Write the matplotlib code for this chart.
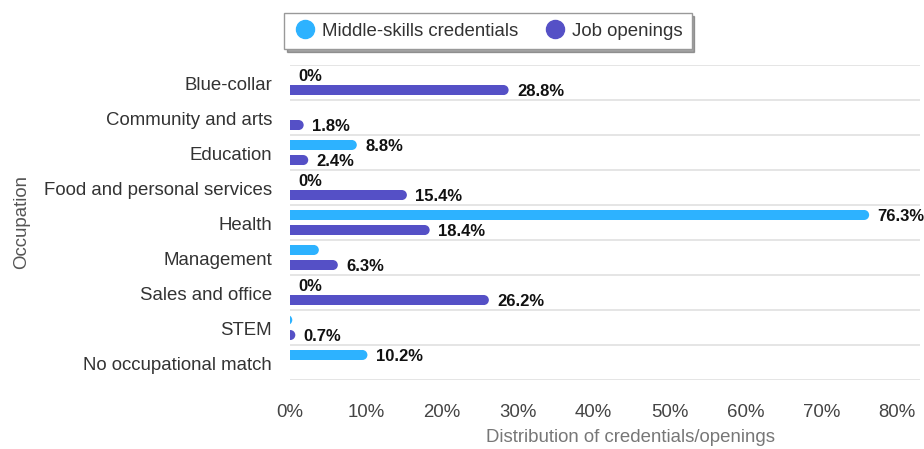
import numpy as np
import matplotlib
matplotlib.use("Agg")
import matplotlib.pyplot as plt
from matplotlib.lines import Line2D
from matplotlib.patches import Ellipse

plt.rcParams['font.family'] = ['Liberation Sans', 'DejaVu Sans']

occupations = ["Blue-collar", "Community and arts", "Education",
               "Food and personal services", "Health", "Management",
               "Sales and office", "STEM", "No occupational match"]
credentials = [0, 0, 8.8, 0, 76.3, 3.8, 0, 0.3, 10.2]
openings = [28.8, 1.8, 2.4, 15.4, 18.4, 6.3, 26.2, 0.7, 0]
# which bars carry a value label
cred_show = [True, False, True, True, True, False, True, False, True]
open_show = [True, True, True, True, True, True, True, True, False]
xticks = [0, 10, 20, 30, 40, 50, 60, 70, 80]

BLUE = "#2db2ff"
PURPLE = "#5550c6"

W, H = 924, 449
fig = plt.figure(figsize=(W / 100, H / 100), dpi=100)
ax = fig.add_axes([290 / W, 1 - 380 / H, 630 / W, 315 / H])
xmax = 83
ax.set_xlim(0, xmax)
ax.set_ylim(len(occupations) - 0.5, -0.5)

bar_h = 10 / 35                  # bar thickness in category units
r = 5 / (630 / xmax)             # rounded end radius in data units
off = 0.215

y = np.arange(len(occupations))

def draw(vals, shows, ys, color):
    for v, s, yy in zip(vals, shows, ys):
        if v > 0:
            ax.barh(yy, max(v - r, 0), height=bar_h, color=color,
                    linewidth=0, zorder=3)
            ax.add_patch(Ellipse((v - r, yy), 2 * r, bar_h, color=color,
                                 linewidth=0, zorder=3))
        if s:
            ax.annotate(f"{v:g}%", (v, yy), xytext=(6, -1.2),
                        textcoords='offset points', va='center', ha='left',
                        fontsize=12, fontweight='bold', color='#111111')

draw(credentials, cred_show, y - off, BLUE)
draw(openings, open_show, y + off, PURPLE)

# category separators
for b in np.arange(-0.5, len(occupations) + 0.5, 1):
    ax.axhline(b, color='#e3e3e3', lw=1.3, zorder=1)

for sp in ax.spines.values():
    sp.set_visible(False)

ax.set_yticks(y + 0.03)
ax.set_yticklabels(occupations, fontsize=13.4, color='#333333')
ax.set_xticks(xticks)
ax.set_xticklabels([f"{t}%" for t in xticks], fontsize=13.4, color='#444444')
ax.tick_params(axis='y', length=0, pad=13)
ax.tick_params(axis='x', length=0, pad=17)

fig.text(631 / W, 1 - 437 / H, "Distribution of credentials/openings",
         ha='center', va='center', fontsize=13.4, color='#777777')
fig.text(22 / W, 1 - 222 / H, "Occupation", rotation=90, ha='center',
         va='center', fontsize=13.4, color='#555555')

handles = [Line2D([], [], marker='o', ls='', color=BLUE, markersize=13),
           Line2D([], [], marker='o', ls='', color=PURPLE, markersize=13)]
leg = fig.legend(handles, ["Middle-skills credentials", "Job openings"],
                 loc='center', bbox_to_anchor=(488 / W, 1 - 31 / H), ncol=2,
                 fontsize=13.4, frameon=True, fancybox=False, shadow=True,
                 handletextpad=0.3, columnspacing=1.4, borderpad=0.5,
                 handlelength=1.2)
leg.get_frame().set_edgecolor('#999999')
leg.get_frame().set_linewidth(1.0)
for t in leg.get_texts():
    t.set_color('#333333')

fig.savefig("out.png", dpi=100)
